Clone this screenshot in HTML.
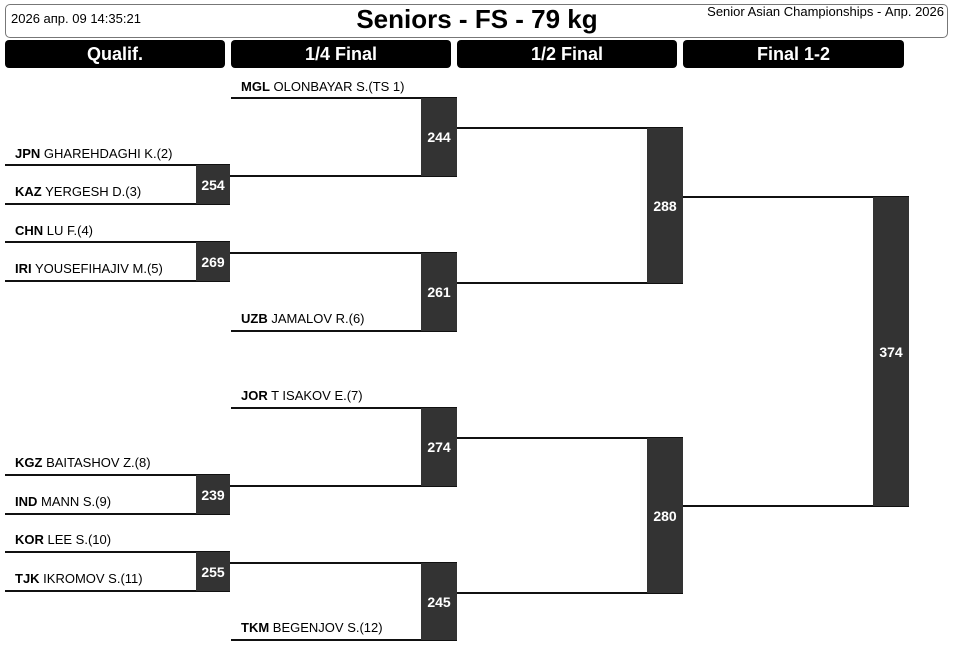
<!DOCTYPE html>
<html><head><meta charset="utf-8"><style>
*{margin:0;padding:0;box-sizing:border-box}
body{width:954px;height:647px;background:#fff;position:relative;overflow:hidden;font-family:"Liberation Sans","Noto Sans CJK SC",sans-serif;}
.hd{position:absolute;left:5px;top:4px;width:943px;height:34px;border:1px solid #777;border-radius:5px;background:#fff}
.col{position:absolute;top:40px;height:28px;background:#000;color:#fff;font-weight:bold;font-size:18px;text-align:center;line-height:28px;border-radius:4px}
.l{position:absolute;height:2px;background:#111}
.b{position:absolute;background:#333;color:#fff;font-weight:bold;font-size:14px;display:flex;align-items:center;justify-content:center}
.t{position:absolute;font-size:13px;line-height:15px;color:#000;white-space:nowrap}
.t b{font-weight:bold}
</style></head><body>
<div class="hd"></div>
<div style="position:absolute;left:11px;top:11px;font-size:13px">2026 апр. 09 14:35:21</div>
<div style="position:absolute;left:0;width:954px;top:4px;text-align:center;font-size:26px;font-weight:bold;line-height:30px">Seniors - FS - 79 kg</div>
<div style="position:absolute;right:10px;top:4px;font-size:13px">Senior Asian Championships - Апр. 2026</div>
<div class="col" style="left:5px;width:220px">Qualif.</div>
<div class="col" style="left:231px;width:220px">1/4 Final</div>
<div class="col" style="left:457px;width:220px">1/2 Final</div>
<div class="col" style="left:683px;width:221px">Final 1-2</div>

<div class="l" style="left:5px;width:225px;top:164px"></div>
<div class="l" style="left:5px;width:225px;top:203px"></div>
<div class="l" style="left:5px;width:225px;top:241px"></div>
<div class="l" style="left:5px;width:225px;top:280px"></div>
<div class="l" style="left:5px;width:225px;top:474px"></div>
<div class="l" style="left:5px;width:225px;top:513px"></div>
<div class="l" style="left:5px;width:225px;top:551px"></div>
<div class="l" style="left:5px;width:225px;top:590px"></div>
<div class="l" style="left:231px;width:226px;top:97px"></div>
<div class="l" style="left:230px;width:227px;top:175px"></div>
<div class="l" style="left:230px;width:227px;top:252px"></div>
<div class="l" style="left:231px;width:226px;top:330px"></div>
<div class="l" style="left:231px;width:226px;top:407px"></div>
<div class="l" style="left:230px;width:227px;top:485px"></div>
<div class="l" style="left:230px;width:227px;top:562px"></div>
<div class="l" style="left:231px;width:226px;top:639px"></div>
<div class="l" style="left:457px;width:226px;top:127px"></div>
<div class="l" style="left:457px;width:226px;top:282px"></div>
<div class="l" style="left:457px;width:226px;top:437px"></div>
<div class="l" style="left:457px;width:226px;top:592px"></div>
<div class="l" style="left:683px;width:226px;top:196px"></div>
<div class="l" style="left:683px;width:226px;top:505px"></div>

<div class="b" style="left:196px;width:34px;top:165px;height:39px">254</div>
<div class="b" style="left:196px;width:34px;top:242px;height:39px">269</div>
<div class="b" style="left:196px;width:34px;top:475px;height:39px">239</div>
<div class="b" style="left:196px;width:34px;top:552px;height:39px">255</div>
<div class="b" style="left:421px;width:36px;top:98px;height:78px">244</div>
<div class="b" style="left:421px;width:36px;top:253px;height:78px">261</div>
<div class="b" style="left:421px;width:36px;top:408px;height:78px">274</div>
<div class="b" style="left:421px;width:36px;top:563px;height:77px">245</div>
<div class="b" style="left:647px;width:36px;top:128px;height:155px">288</div>
<div class="b" style="left:647px;width:36px;top:438px;height:155px">280</div>
<div class="b" style="left:873px;width:36px;top:197px;height:309px">374</div>

<div class="t" style="left:241px;top:79px"><b>MGL</b> OLONBAYAR S.(TS 1)</div>
<div class="t" style="left:15px;top:146px"><b>JPN</b> GHAREHDAGHI K.(2)</div>
<div class="t" style="left:15px;top:184px"><b>KAZ</b> YERGESH D.(3)</div>
<div class="t" style="left:15px;top:223px"><b>CHN</b> LU F.(4)</div>
<div class="t" style="left:15px;top:261px"><b>IRI</b> YOUSEFIHAJIV M.(5)</div>
<div class="t" style="left:241px;top:311px"><b>UZB</b> JAMALOV R.(6)</div>
<div class="t" style="left:241px;top:388px"><b>JOR</b> T ISAKOV E.(7)</div>
<div class="t" style="left:15px;top:455px"><b>KGZ</b> BAITASHOV Z.(8)</div>
<div class="t" style="left:15px;top:494px"><b>IND</b> MANN S.(9)</div>
<div class="t" style="left:15px;top:532px"><b>KOR</b> LEE S.(10)</div>
<div class="t" style="left:15px;top:571px"><b>TJK</b> IKROMOV S.(11)</div>
<div class="t" style="left:241px;top:620px"><b>TKM</b> BEGENJOV S.(12)</div>
</body></html>
